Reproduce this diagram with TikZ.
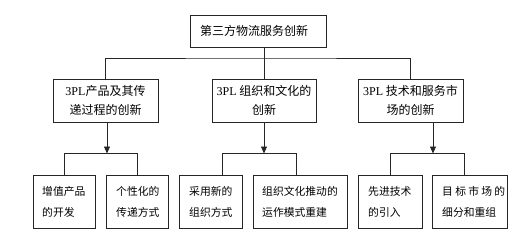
\documentclass[tikz,border=0pt]{standalone}
\usepackage{fontspec}
\setmainfont{Noto Sans CJK SC}
\newfontfamily\tnr{Liberation Serif}
\usetikzlibrary{arrows.meta}
\tikzset{
  box/.style={draw=black!85, line width=0.9pt, inner sep=0pt, minimum height=#1},
  lbl/.style={font=\fontsize{12pt}{19pt}\selectfont, align=center, inner sep=0pt},
  sml/.style={font=\fontsize{10.8pt}{21pt}\selectfont, align=left, inner sep=0pt, anchor=west},
  conn/.style={draw=black!85, line width=0.9pt},
  arr/.style={conn, -{Triangle[length=7pt,width=6pt]}}
}
\begin{document}
\begin{tikzpicture}[x=1pt,y=1pt]
\useasboundingbox (0,0) rectangle (514,-241);
% top
\node[box=32pt, minimum width=136pt] (top) at (258,-31) {};
\node[lbl] (toplbl) at (254,-31) {第三方物流服务创新};
% middle boxes
\node[box=43pt, minimum width=105pt] (m1) at (105.5,-100.5) {};
\node[box=43pt, minimum width=104pt] (m2) at (264,-100.5) {};
\node[box=43pt, minimum width=105pt] (m3) at (410.5,-100.5) {};
\node[lbl] (m1l) at (m1) {{\tnr 3PL}产品及其传\\递过程的创新};
\node[lbl] (m2l) at (m2) {{\tnr 3PL} 组织和文化的\\创新};
\node[lbl] (m3l) at (m3) {{\tnr 3PL} 技术和服务市\\场的创新};
% bottom boxes
\node[box=53pt, minimum width=62pt] (a) at (64,-201.5) {};
\node[box=53pt, minimum width=62pt] (b) at (137,-201.5) {};
\node[box=53pt, minimum width=63pt] (c) at (210.5,-201.5) {};
\node[box=53pt, minimum width=94pt] (d) at (300,-201.5) {};
\node[box=53pt, minimum width=64pt] (e) at (390,-201.5) {};
\node[box=53pt, minimum width=75pt] (f) at (469.5,-201.5) {};
\node[sml] (al) at (42,-202) {增值产品\\的开发};
\node[sml] (bl) at (116,-202) {个性化的\\传递方式};
\node[sml] (cl) at (189,-202) {采用新的\\组织方式};
\node[sml] (dl) at (262,-202) {组织文化推动的\\运作模式重建};
\node[sml] (el) at (368,-202) {先进技术\\的引入};
\node[sml] (fl) at (442,-202) {\makebox[63pt][s]{目\hfill 标\hfill 市\hfill 场\hfill 的}\\细分和重组};
% level 1 connectors
\coordinate (bus) at (264,-58);
\draw[conn] (m2.north |- top.south) -- (m2.north);
\draw[conn] (m1.north) |- (bus) -| (m3.north);
% level 2 connectors
\coordinate (b1) at (107,-153.5);
\coordinate (b2) at (264,-153.5);
\coordinate (b3) at (433,-153.5);
\coordinate (ct) at (222,-175);
\coordinate (dt) at (296,-175);
\coordinate (ft) at (464,-175);
\draw[arr] (b1 |- m1.south) -- (b1);
\draw[arr] (b2 |- m2.south) -- (b2);
\draw[arr] (b3 |- m3.south) -- (b3);
\draw[conn] (a.north) |- (b1) -| (b.north);
\draw[conn] (ct) |- (b2) -| (dt);
\draw[conn] (e.north) |- (b3) -| (ft);
\end{tikzpicture}
\end{document}
